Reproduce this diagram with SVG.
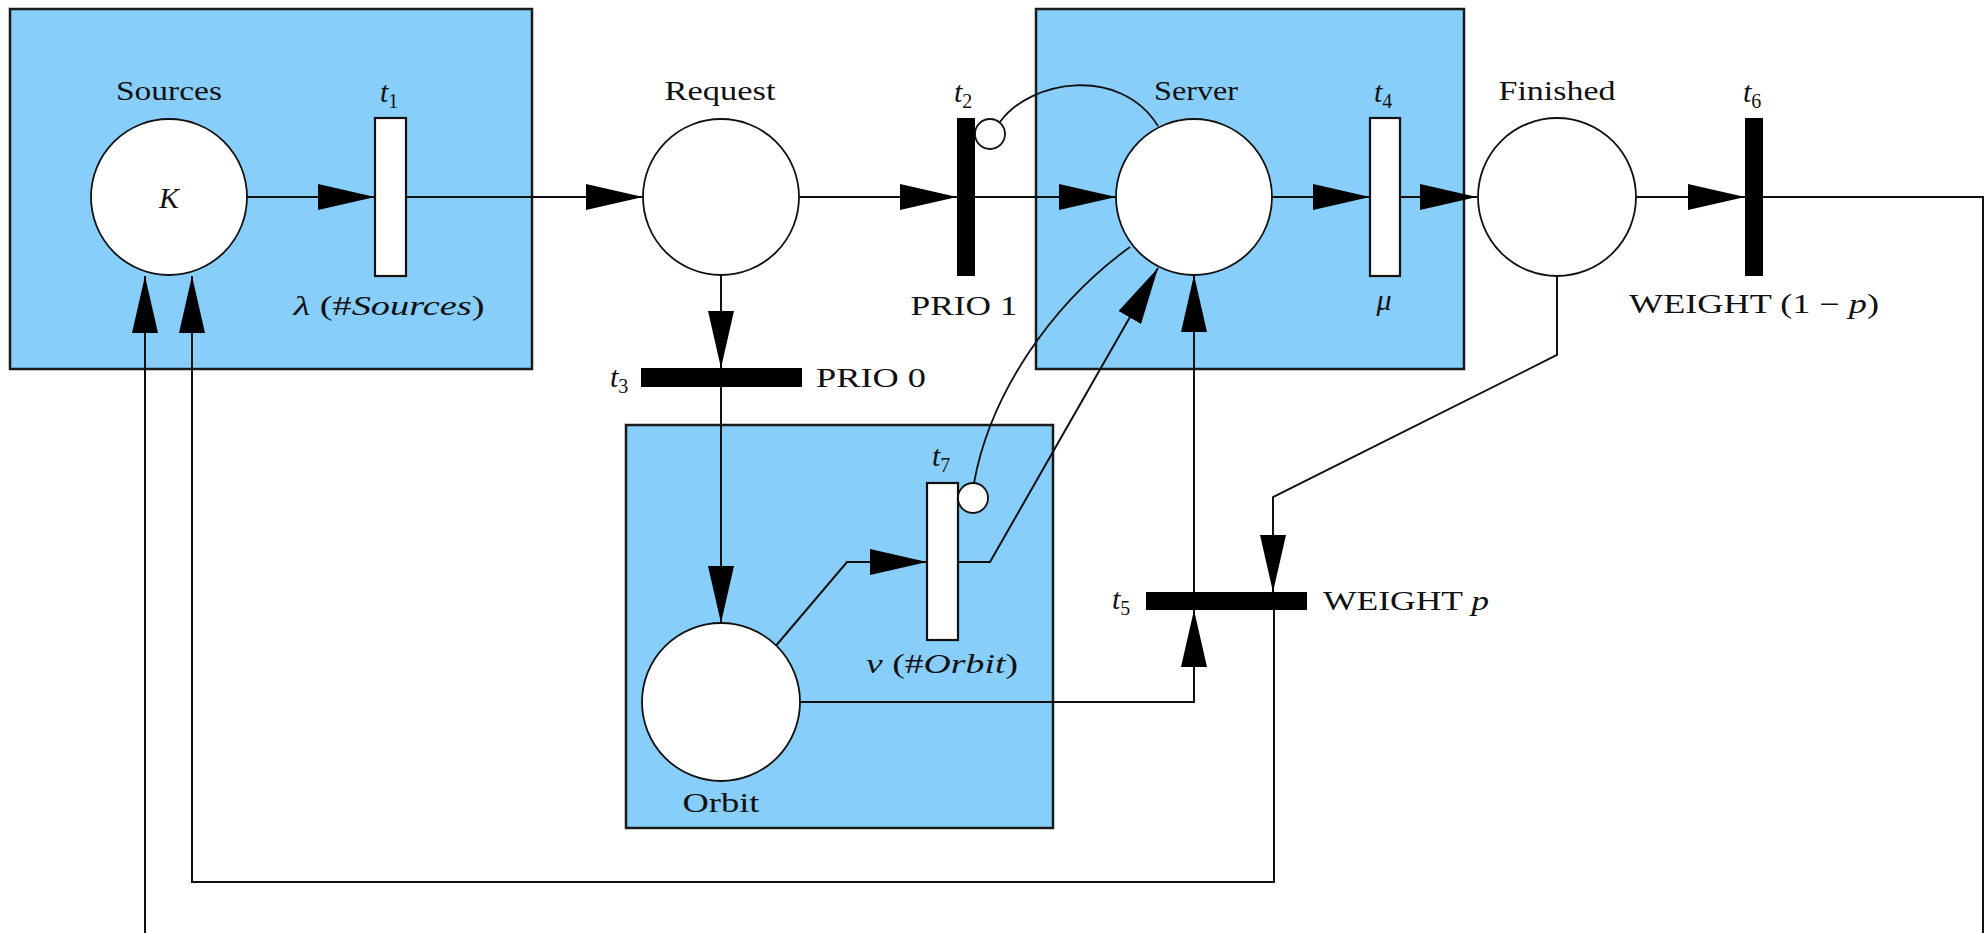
<svg xmlns="http://www.w3.org/2000/svg" width="1987" height="933" viewBox="0 0 1987 933">
<style>
.box{fill:#87CEFA;stroke:#1a1a1a;stroke-width:2.5}
.place{fill:#fff;stroke:#111;stroke-width:1.8}
.tw{fill:#fff;stroke:#111;stroke-width:2.2}
.tb{fill:#000;stroke:none}
.inh{fill:#fff;stroke:#111;stroke-width:1.8}
.arc{fill:none;stroke:#111;stroke-width:2}
.arcw{fill:none;stroke:#111;stroke-width:1.8}
text{font-family:"Liberation Serif","Times New Roman",serif;font-size:27px;fill:#111}
.it{font-style:italic}
.tl{font-size:30px}
.sub{font-size:20px}
</style>
<defs>
<marker id="ah" viewBox="0 0 57 26" markerWidth="57" markerHeight="26" refX="57" refY="13" orient="auto" markerUnits="userSpaceOnUse">
<path d="M0,0 L57,13 L0,26 z" fill="#000"/>
</marker>
</defs>
<rect width="1987" height="933" fill="#fff"/>
<g id="boxes">
<rect id="box-sources" class="box" x="10" y="9" width="522" height="360"/>
<rect id="box-server" class="box" x="1036" y="9" width="428" height="360"/>
<rect id="box-orbit" class="box" x="626" y="425" width="427" height="403"/>
</g>
<g id="connectors">
<path class="arc" d="M247,197 H375" marker-end="url(#ah)"/>
<path class="arc" d="M406,197 H643" marker-end="url(#ah)"/>
<path class="arc" d="M799,197 H957" marker-end="url(#ah)"/>
<path class="arc" d="M975,197 H1116" marker-end="url(#ah)"/>
<path class="arc" d="M1272,197 H1370" marker-end="url(#ah)"/>
<path class="arc" d="M1400,197 H1477" marker-end="url(#ah)"/>
<path class="arc" d="M1635,197 H1745" marker-end="url(#ah)"/>
<path class="arc" d="M1763,197 H1983 V933"/>
<path class="arc" d="M721,275 V368" marker-end="url(#ah)"/>
<path class="arc" d="M721,387 V623" marker-end="url(#ah)"/>
<path class="arc" d="M774,648 L847,562 H927" marker-end="url(#ah)"/>
<path class="arc" d="M958,562 H990 L1158,268" marker-end="url(#ah)"/>
<path class="arc" d="M800,702 H1194 V610" marker-end="url(#ah)"/>
<path class="arc" d="M1194,592 V275" marker-end="url(#ah)"/>
<path class="arc" d="M1557,276 V355 L1273,497 V592" marker-end="url(#ah)"/>
<path class="arc" d="M1274,610 V882 H192 V276" marker-end="url(#ah)"/>
<path class="arc" d="M145,933 V276" marker-end="url(#ah)"/>
<path class="arcw" d="M1000,122 C1030,80 1120,65 1158,126"/>
<path class="arcw" d="M974,483 C990,395 1050,305 1130,247"/>
</g>
<g id="p-sources">
<circle class="place" cx="169" cy="197" r="78"/>
<text x="169" y="208" text-anchor="middle" class="it tl">K</text>
<text x="169" y="100" text-anchor="middle" textLength="106" lengthAdjust="spacingAndGlyphs">Sources</text>
</g>
<g id="t1">
<rect class="tw" x="375" y="118" width="31" height="158"/>
<text x="380" y="102" class="it tl">t<tspan class="sub" dy="6" font-style="normal">1</tspan></text>
<text x="389" y="315" text-anchor="middle" textLength="191" lengthAdjust="spacingAndGlyphs"><tspan class="it">λ</tspan> (#<tspan class="it">Sources</tspan>)</text>
</g>
<g id="p-request">
<circle class="place" cx="721" cy="197" r="78"/>
<text x="720" y="100" text-anchor="middle" textLength="111" lengthAdjust="spacingAndGlyphs">Request</text>
</g>
<g id="t2">
<rect class="tb" x="957" y="118" width="18" height="158"/>
<circle class="inh" cx="990" cy="134" r="15"/>
<text x="954" y="102" class="it tl">t<tspan class="sub" dy="6" font-style="normal">2</tspan></text>
<text x="964" y="315" text-anchor="middle" textLength="107" lengthAdjust="spacingAndGlyphs">PRIO 1</text>
</g>
<g id="t3">
<rect class="tb" x="641" y="368" width="161" height="19"/>
<text x="610" y="387" class="it tl">t<tspan class="sub" dy="6" font-style="normal">3</tspan></text>
<text x="816" y="387" textLength="110" lengthAdjust="spacingAndGlyphs">PRIO 0</text>
</g>
<g id="p-server">
<circle class="place" cx="1194" cy="197" r="78"/>
<text x="1196" y="100" text-anchor="middle" textLength="84" lengthAdjust="spacingAndGlyphs">Server</text>
</g>
<g id="t4">
<rect class="tw" x="1370" y="118" width="30" height="158"/>
<text x="1374" y="102" class="it tl">t<tspan class="sub" dy="6" font-style="normal">4</tspan></text>
<text x="1384" y="310" text-anchor="middle" class="it tl">μ</text>
</g>
<g id="p-finished">
<circle class="place" cx="1557" cy="197" r="79"/>
<text x="1557" y="100" text-anchor="middle" textLength="117" lengthAdjust="spacingAndGlyphs">Finished</text>
</g>
<g id="t6">
<rect class="tb" x="1745" y="118" width="18" height="158"/>
<text x="1743" y="102" class="it tl">t<tspan class="sub" dy="6" font-style="normal">6</tspan></text>
<text x="1754" y="313" text-anchor="middle" textLength="250" lengthAdjust="spacingAndGlyphs">WEIGHT (1 − <tspan class="it">p</tspan>)</text>
</g>
<g id="p-orbit">
<circle class="place" cx="721" cy="702" r="79"/>
<text x="721" y="812" text-anchor="middle" textLength="77" lengthAdjust="spacingAndGlyphs">Orbit</text>
</g>
<g id="t7">
<rect class="tw" x="927" y="483" width="31" height="157"/>
<circle class="inh" cx="973" cy="498" r="15"/>
<text x="932" y="466" class="it tl">t<tspan class="sub" dy="6" font-style="normal">7</tspan></text>
<text x="942" y="673" text-anchor="middle" textLength="152" lengthAdjust="spacingAndGlyphs"><tspan class="it">ν</tspan> (#<tspan class="it">Orbit</tspan>)</text>
</g>
<g id="t5">
<rect class="tb" x="1146" y="592" width="161" height="18"/>
<text x="1112" y="609" class="it tl">t<tspan class="sub" dy="6" font-style="normal">5</tspan></text>
<text x="1323" y="610" textLength="166" lengthAdjust="spacingAndGlyphs">WEIGHT <tspan class="it">p</tspan></text>
</g>
</svg>
